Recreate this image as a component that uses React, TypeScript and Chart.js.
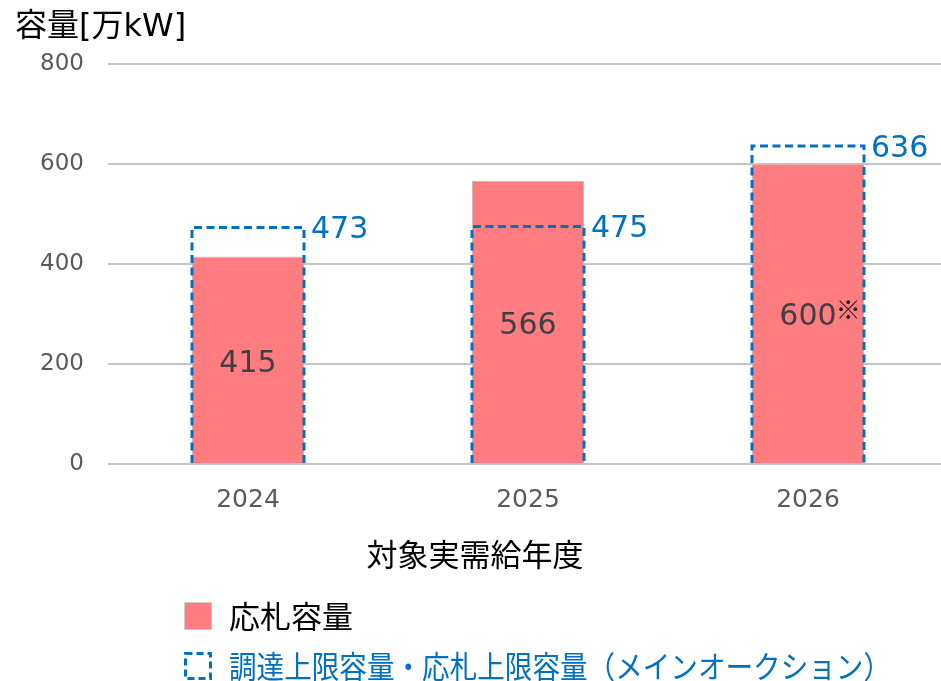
import React, { useEffect, useRef } from 'react';
import { Chart, registerables } from 'chart.js';

Chart.register(...registerables);

const categories = ['2024', '2025', '2026'];
const bidCapacity = [415, 566, 600];
const upperLimit = [473, 475, 636];
const bidNotes = ['', '', '※'];
const yTicks = [0, 200, 400, 600, 800];
const yTitle = '容量[万kW]';
const xTitle = '対象実需給年度';
const legendLabels = ['応札容量', '調達上限容量・応札上限容量（メインオークション）'];

const NUM_FONT = '"DejaVu Sans", "Noto Sans CJK JP", sans-serif';
const JP_FONT = '"Noto Sans CJK JP", "DejaVu Sans", sans-serif';
const RED = '#FF7C80';
const BLUE = '#0070C0';
const CW = 960;
const CH = 681;

const overlay = {
  id: 'overlay',
  afterDatasetsDraw(chart: any) {
    const ctx = chart.ctx as CanvasRenderingContext2D;
    const meta0 = chart.getDatasetMeta(0);
    const meta1 = chart.getDatasetMeta(1);
    ctx.save();
    meta0.data.forEach((bar: any, i: number) => {
      const { x, y, base } = bar.getProps(['x', 'y', 'base'], true);
      const cy = (y + base) / 2 + 4;
      ctx.font = `30px ${NUM_FONT}`;
      ctx.fillStyle = '#404040';
      ctx.textAlign = 'center';
      ctx.textBaseline = 'middle';
      const t = String(bidCapacity[i]);
      ctx.fillText(t, x, cy);
      if (bidNotes[i]) {
        const w = ctx.measureText(t).width;
        ctx.font = `25px ${JP_FONT}`;
        ctx.textAlign = 'left';
        ctx.fillStyle = '#1a1a1a';
        ctx.fillText(bidNotes[i], x + w / 2 - 1, cy - 8);
      }
    });
    meta1.data.forEach((bar: any, i: number) => {
      const { x, y, base, width } = bar.getProps(['x', 'y', 'base', 'width'], true);
      const l = x - width / 2;
      const r = x + width / 2;
      ctx.setLineDash([8, 4.5]);
      ctx.lineWidth = 3;
      ctx.strokeStyle = BLUE;
      ctx.beginPath();
      ctx.moveTo(l, base);
      ctx.lineTo(l, y);
      ctx.lineTo(r, y);
      ctx.lineTo(r, base);
      ctx.stroke();
      ctx.setLineDash([]);
      ctx.font = `30px ${NUM_FONT}`;
      ctx.fillStyle = BLUE;
      ctx.textAlign = 'left';
      ctx.textBaseline = 'middle';
      ctx.fillText(String(upperLimit[i]), r + 7, y + 3);
    });
    ctx.restore();
  },
  afterDraw(chart: any) {
    const ctx = chart.ctx as CanvasRenderingContext2D;
    ctx.save();
    ctx.textBaseline = 'middle';
    // y title
    ctx.font = `32px ${NUM_FONT}`;
    ctx.fillStyle = '#000000';
    ctx.textAlign = 'left';
    ctx.fillText(yTitle, 15, 28);
    // x title
    ctx.font = `31px ${JP_FONT}`;
    ctx.textAlign = 'center';
    ctx.fillText(xTitle, 475, 554);
    // legend 1
    ctx.fillStyle = RED;
    ctx.fillRect(184, 602, 28, 28);
    ctx.strokeStyle = '#D0D0D0';
    ctx.lineWidth = 1;
    ctx.strokeRect(184.5, 602.5, 27, 27);
    ctx.fillStyle = '#000000';
    ctx.textAlign = 'left';
    ctx.font = `31px ${JP_FONT}`;
    ctx.fillText(legendLabels[0], 229, 616);
    // legend 2
    ctx.strokeStyle = BLUE;
    ctx.lineWidth = 3;
    ctx.setLineDash([7, 4]);
    ctx.strokeRect(185.5, 653.5, 25, 25);
    ctx.setLineDash([]);
    ctx.fillStyle = BLUE;
    ctx.fillText(legendLabels[1], 229, 666, 662);
    ctx.restore();
  },
};

export default function App() {
  const ref = useRef<HTMLCanvasElement | null>(null);
  useEffect(() => {
    const canvas = ref.current;
    if (!canvas) return;
    const chart = new Chart(canvas, {
      type: 'bar',
      data: {
        labels: categories,
        datasets: [
          {
            label: legendLabels[0],
            data: bidCapacity,
            backgroundColor: RED,
            borderColor: '#DDB0B0',
            borderWidth: 1,
            grouped: false,
            barPercentage: 0.4,
            categoryPercentage: 1,
            order: 2,
          },
          {
            label: legendLabels[1],
            data: upperLimit,
            backgroundColor: 'rgba(0,0,0,0)',
            borderWidth: 0,
            grouped: false,
            barPercentage: 0.4,
            categoryPercentage: 1,
            order: 1,
          },
        ],
      } as any,
      options: {
        responsive: false,
        animation: false,
        devicePixelRatio: 1,
        layout: { padding: { left: 0, top: 64, right: CW - 948, bottom: CH - 464 - 70 } },
        plugins: {
          legend: { display: false },
          tooltip: { enabled: false },
          title: { display: false },
        },
        scales: {
          x: {
            grid: { display: false, drawTicks: false },
            border: { display: false },
            ticks: { color: '#595959', font: { family: NUM_FONT, size: 25 }, padding: 21 },
            afterFit: (s: any) => {
              s.height = 70;
            },
          },
          y: {
            min: 0,
            max: 800,
            afterBuildTicks: (s: any) => {
              s.ticks = yTicks.map((v) => ({ value: v }));
            },
            grid: { color: '#C4C4C4', lineWidth: 2, drawTicks: false },
            border: { display: false },
            ticks: { color: '#595959', font: { family: NUM_FONT, size: 23 }, padding: 24 },
            afterFit: (s: any) => {
              s.width = 108;
            },
          },
        },
      } as any,
      plugins: [overlay],
    });
    return () => chart.destroy();
  }, []);
  return (
    <div
      style={{
        position: 'fixed',
        left: 0,
        top: 0,
        width: 941,
        height: 681,
        overflow: 'hidden',
        background: '#ffffff',
      }}
    >
      <canvas ref={ref} width={CW} height={CH} style={{ display: 'block', width: CW, height: CH }} />
    </div>
  );
}
